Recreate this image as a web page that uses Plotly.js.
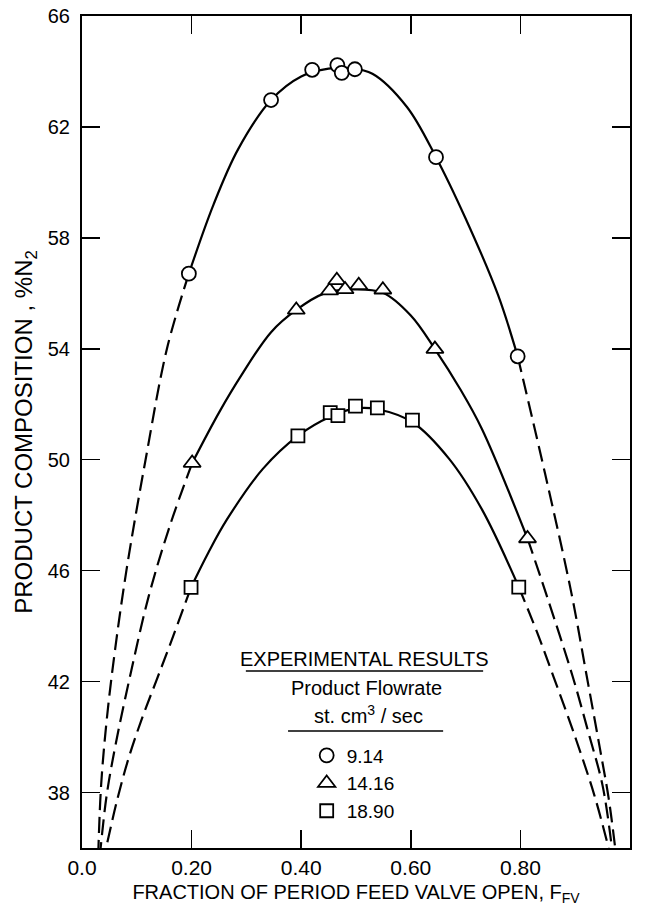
<!DOCTYPE html>
<html>
<head>
<meta charset="utf-8">
<script src="https://cdn.plot.ly/plotly-3.0.1.min.js"></script>
<style>
  html, body { margin: 0; padding: 0; background: #ffffff; }
  #chart { width: 645px; height: 915px; }
</style>
</head>
<body>
<div id="chart"></div>
<script>
// ---- Experimental points ----
const x914  = [0.195, 0.345, 0.420, 0.466, 0.474, 0.498, 0.646, 0.795];
const y914  = [56.71, 62.97, 64.06, 64.23, 63.95, 64.08, 60.91, 53.73];
const x1416 = [0.201, 0.391, 0.452, 0.465, 0.480, 0.505, 0.549, 0.644, 0.813];
const y1416 = [49.88, 55.40, 56.10, 56.47, 56.14, 56.29, 56.13, 53.99, 47.16];
const x1890 = [0.199, 0.394, 0.453, 0.467, 0.499, 0.539, 0.603, 0.797];
const y1890 = [45.40, 50.86, 51.70, 51.59, 51.93, 51.87, 51.43, 45.41];

// ---- Fitted curves (solid) ----
const fit914X  = [0.195, 0.240, 0.285, 0.345, 0.400, 0.450, 0.490, 0.530, 0.593, 0.646, 0.700, 0.759, 0.795];
const fit914Y  = [56.71, 59.20, 61.20, 62.97, 63.82, 64.10, 64.12, 63.92, 62.72, 60.91, 58.70, 55.95, 53.73];
const fit1416X = [0.201, 0.250, 0.291, 0.345, 0.391, 0.440, 0.490, 0.549, 0.600, 0.644, 0.690, 0.730, 0.813];
const fit1416Y = [49.88, 51.70, 53.05, 54.60, 55.40, 55.98, 56.14, 56.02, 55.20, 53.99, 52.55, 51.10, 47.16];
const fit1890X = [0.199, 0.230, 0.264, 0.330, 0.394, 0.453, 0.500, 0.539, 0.603, 0.670, 0.730, 0.797];
const fit1890Y = [45.40, 46.63, 47.83, 49.67, 50.86, 51.55, 51.85, 51.82, 51.35, 50.03, 48.20, 45.41];

// ---- Extrapolated curves (dashed) ----
const ext914LX  = [0.195, 0.155, 0.116, 0.081, 0.060, 0.045, 0.035, 0.030];
const ext914LY  = [56.71, 54.00, 50.00, 46.00, 43.10, 40.60, 38.30, 36.00];
const ext914RX  = [0.795, 0.845, 0.893, 0.921, 0.945, 0.961, 0.973];
const ext914RY  = [53.73, 49.50, 45.20, 42.20, 39.60, 37.80, 36.00];
const ext1416LX = [0.201, 0.160, 0.122, 0.090, 0.061, 0.045, 0.034];
const ext1416LY = [49.88, 47.60, 45.10, 42.40, 39.70, 37.90, 36.00];
const ext1416RX = [0.813, 0.847, 0.895, 0.925, 0.950, 0.967];
const ext1416RY = [47.16, 45.16, 42.21, 40.10, 38.25, 36.00];
const ext1890LX = [0.199, 0.160, 0.135, 0.110, 0.086, 0.065, 0.044];
const ext1890LY = [45.40, 43.30, 42.00, 40.70, 39.30, 37.80, 36.00];
const ext1890RX = [0.797, 0.830, 0.860, 0.900, 0.935, 0.961];
const ext1890RY = [45.41, 43.80, 42.20, 40.00, 37.90, 36.00];

// ---- Axis ticks ----
const xTickVals = [0.0, 0.2, 0.4, 0.6, 0.8, 1.0];
const xTickText = ['0.0', '0.20', '0.40', '0.60', '0.80', '1.00'];
const yTickVals = [38, 42, 46, 50, 54, 58, 62, 66];
const yTickText = ['38', '42', '46', '50', '54', '58', '62', '66'];

const seriesNames = ['9.14', '14.16', '18.90'];

const FONT = '"Liberation Sans", Arial, sans-serif';

function solid(x, y) {
  return { x: x, y: y, type: 'scatter', mode: 'lines', showlegend: false, hoverinfo: 'skip',
           line: { color: '#000', width: 2.2, shape: 'spline', smoothing: 1 } };
}
function dashed(x, y) {
  return { x: x, y: y, type: 'scatter', mode: 'lines', showlegend: false, hoverinfo: 'skip',
           line: { color: '#000', width: 2.2, shape: 'spline', smoothing: 1, dash: '16px,7px' } };
}
function pts(x, y, sym, name, size) {
  return { x: x, y: y, type: 'scatter', mode: 'markers', name: name, showlegend: true,
           marker: { symbol: sym, size: size, color: '#fff', line: { color: '#000', width: 1.8 } } };
}

const traces = [
  solid(fit914X, fit914Y), dashed(ext914LX, ext914LY), dashed(ext914RX, ext914RY),
  solid(fit1416X, fit1416Y), dashed(ext1416LX, ext1416LY), dashed(ext1416RX, ext1416RY),
  solid(fit1890X, fit1890Y), dashed(ext1890LX, ext1890LY), dashed(ext1890RX, ext1890RY),
  pts(x914, y914, 'circle', seriesNames[0], 14),
  pts(x1416, y1416, 'triangle-up', seriesNames[1], 15),
  pts(x1890, y1890, 'square', seriesNames[2], 13)
];

const layout = {
  width: 645, height: 915,
  margin: { l: 82, r: 15, t: 16, b: 67 },
  paper_bgcolor: '#fff', plot_bgcolor: '#fff',
  font: { family: FONT, color: '#000', size: 20 },
  xaxis: {
    range: [0, 1], tickmode: 'array', tickvals: xTickVals, ticktext: xTickText,
    ticks: 'inside', ticklen: 18, tickwidth: 1.5, tickcolor: '#000',
    showline: true, linewidth: 2, linecolor: '#000', mirror: 'ticks',
    showgrid: false, zeroline: false,
    tickfont: { family: FONT, size: 21, color: '#000' },
    title: { text: 'FRACTION OF PERIOD FEED VALVE OPEN, F<sub>FV</sub>',
             font: { family: FONT, size: 20, color: '#000' }, standoff: 7 }
  },
  yaxis: {
    range: [36, 66], tickmode: 'array', tickvals: yTickVals, ticktext: yTickText,
    ticks: 'inside', ticklen: 18, tickwidth: 1.5, tickcolor: '#000',
    showline: true, linewidth: 2, linecolor: '#000', mirror: 'ticks',
    showgrid: false, zeroline: false,
    tickfont: { family: FONT, size: 20, color: '#000' },
    ticklabelstandoff: 6,
    title: { text: 'PRODUCT COMPOSITION , %N<sub>2</sub>',
             font: { family: FONT, size: 24, color: '#000' }, standoff: 8 }
  },
  showlegend: true,
  legend: {
    x: 0.41, y: 0.134, xanchor: 'left', yanchor: 'top',
    bgcolor: 'rgba(0,0,0,0)', borderwidth: 0,
    font: { family: FONT, size: 19, color: '#000' },
    itemwidth: 30, tracegroupgap: 0
  },
  annotations: [
    { xref: 'paper', yref: 'paper', x: 0.516, y: 0.2115, yanchor: 'bottom', showarrow: false,
      text: 'EXPERIMENTAL RESULTS', font: { family: FONT, size: 20, color: '#000' } },
    { xref: 'paper', yref: 'paper', x: 0.520, y: 0.1923, yanchor: 'middle', showarrow: false,
      text: 'Product Flowrate', font: { family: FONT, size: 20, color: '#000' } },
    { xref: 'paper', yref: 'paper', x: 0.522, y: 0.143, yanchor: 'bottom', showarrow: false,
      text: 'st. cm<sup>3</sup> / sec', font: { family: FONT, size: 20, color: '#000' } }
  ],
  shapes: [
    { type: 'line', xref: 'paper', yref: 'paper', x0: 0.299, x1: 0.732, y0: 0.2127, y1: 0.2127,
      line: { color: '#000', width: 1.5 } },
    { type: 'line', xref: 'paper', yref: 'paper', x0: 0.376, x1: 0.659, y0: 0.1406, y1: 0.1406,
      line: { color: '#000', width: 1.5 } }
  ]
};

Plotly.newPlot('chart', traces, layout, { displayModeBar: false, staticPlot: true });
</script>
</body>
</html>
